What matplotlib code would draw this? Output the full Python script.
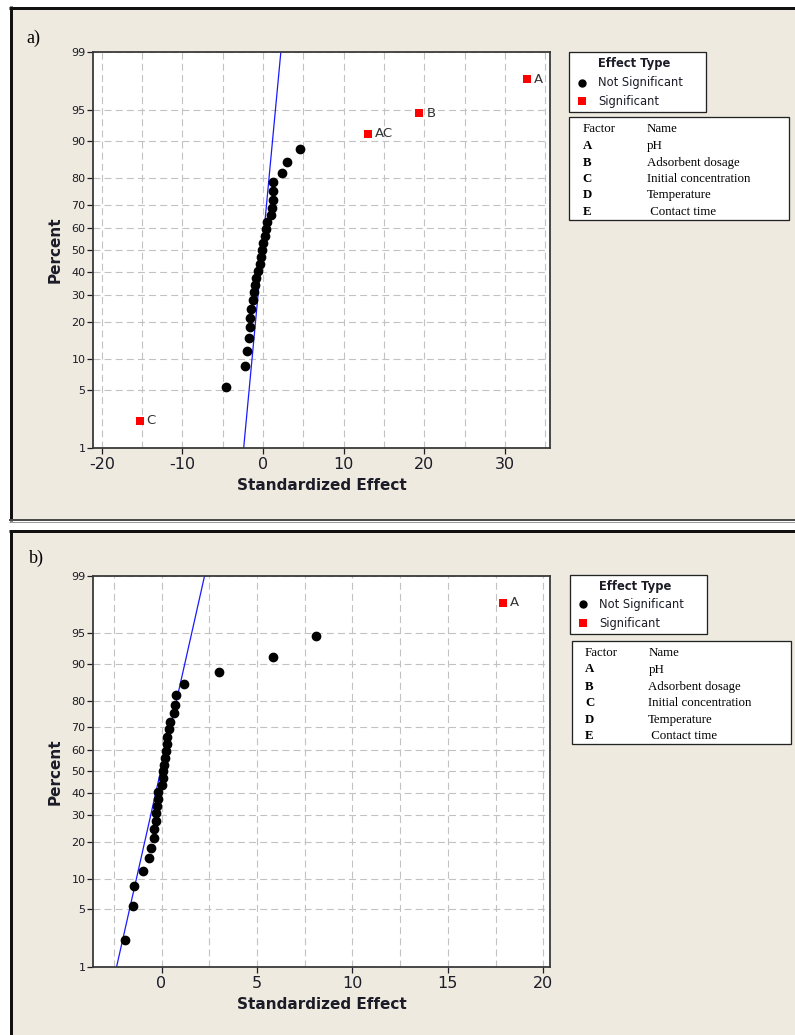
import math
import numpy as np
import matplotlib
matplotlib.use("Agg")
import matplotlib.pyplot as plt
from matplotlib.patches import Rectangle
from matplotlib.lines import Line2D
from matplotlib.ticker import FixedLocator, MultipleLocator, FuncFormatter

plt.rcParams["axes.unicode_minus"] = False
plt.rcParams["lines.scale_dashes"] = False

# ---------------- data ----------------
# normal-probability plotting positions (percent) for the 31 effects
percent = [2.23, 5.41, 8.60, 11.78, 14.97, 18.15, 21.34, 24.52, 27.71, 30.89,
           34.08, 37.26, 40.45, 43.63, 46.82, 50.00, 53.18, 56.37, 59.55, 62.74,
           65.92, 69.11, 72.29, 75.48, 78.66, 81.85, 85.03, 88.22, 91.40, 94.59, 97.77]

# panel a)
a_ns_effect = [-4.55, -2.3, -2.0, -1.72, -1.65, -1.62, -1.48, -1.2, -1.1, -0.98,
               -0.84, -0.66, -0.42, -0.31, -0.09, 0.04, 0.22, 0.35, 0.49, 1.02,
               1.15, 1.2, 1.25, 1.28, 2.35, 3.0, 4.6]
a_ns_percent = percent[1:28]
a_sig_labels = ["C", "AC", "B", "A"]
a_sig_effect = [-15.3, 13.0, 19.4, 32.7]
a_sig_percent = [percent[0], percent[28], percent[29], percent[30]]
a_line = (-0.1, 0.99)  # (mean, sigma) of the reference line

# panel b)
b_ns_effect = [-1.9, -1.5, -1.42, -0.98, -0.68, -0.54, -0.42, -0.37, -0.31, -0.28,
               -0.25, -0.2, -0.16, 0.01, 0.07, 0.1, 0.14, 0.2, 0.24, 0.28,
               0.31, 0.41, 0.43, 0.63, 0.71, 0.76, 1.17, 3.03, 5.85, 8.07]
b_ns_percent = percent[0:30]
b_sig_labels = ["A"]
b_sig_effect = [17.9]
b_sig_percent = [percent[30]]
b_line = (-0.05, 0.99)

y_ticks = [1, 5, 10, 20, 30, 40, 50, 60, 70, 80, 90, 95, 99]

factors = ["A", "B", "C", "D", "E"]
factor_names = ["pH", "Adsorbent dosage", "Initial concentration", "Temperature", " Contact time"]

# ---------------- normal probability scale ----------------
_a = [-3.969683028665376e+01, 2.209460984245205e+02, -2.759285104469687e+02,
      1.383577518672690e+02, -3.066479806614716e+01, 2.506628277459239e+00]
_b = [-5.447609879822406e+01, 1.615858368580409e+02, -1.556989798598866e+02,
      6.680131188771972e+01, -1.328068155288572e+01]
_c = [-7.784894002430293e-03, -3.223964580411365e-01, -2.400758277161838e+00,
      -2.549671348850526e+00, 4.374664141464968e+00, 2.938163982698783e+00]
_d = [7.784695709041462e-03, 3.224671290700398e-01, 2.445134137142996e+00,
      3.754408661907416e+00]


def _ppf1(p):
    p = min(max(p, 1e-12), 1 - 1e-12)
    plow = 0.02425
    if p < plow:
        q = math.sqrt(-2 * math.log(p))
        return (((((_c[0]*q+_c[1])*q+_c[2])*q+_c[3])*q+_c[4])*q+_c[5]) / \
               ((((_d[0]*q+_d[1])*q+_d[2])*q+_d[3])*q+1)
    if p > 1 - plow:
        q = math.sqrt(-2 * math.log(1 - p))
        return -(((((_c[0]*q+_c[1])*q+_c[2])*q+_c[3])*q+_c[4])*q+_c[5]) / \
                ((((_d[0]*q+_d[1])*q+_d[2])*q+_d[3])*q+1)
    q = p - 0.5
    r = q * q
    return (((((_a[0]*r+_a[1])*r+_a[2])*r+_a[3])*r+_a[4])*r+_a[5])*q / \
           (((((_b[0]*r+_b[1])*r+_b[2])*r+_b[3])*r+_b[4])*r+1)


_ppf = np.vectorize(_ppf1, otypes=[float])
_erf = np.vectorize(math.erf, otypes=[float])


def fwd(y):
    return _ppf(np.asarray(y, dtype=float) / 100.0)


def inv(z):
    return 100.0 * 0.5 * (1.0 + _erf(np.asarray(z, dtype=float) / math.sqrt(2.0)))


# ---------------- figure ----------------
W, H = 795, 1035
fig = plt.figure(figsize=(W / 100, H / 100), dpi=100, facecolor="white")
BG = "#EEEAE0"
TXT = "#1c1c28"


def fx(px):
    return px / W


def fy(py):
    return 1 - py / H


def hline(y, x0, x1, lw, color):
    fig.add_artist(Line2D([fx(x0), fx(x1)], [fy(y), fy(y)], transform=fig.transFigure,
                          lw=lw * 0.72, color=color, solid_capstyle="butt", zorder=1))


def vline(x, y0, y1, lw, color):
    fig.add_artist(Line2D([fx(x), fx(x)], [fy(y0), fy(y1)], transform=fig.transFigure,
                          lw=lw * 0.72, color=color, solid_capstyle="butt", zorder=1))


def box(x0, y0, x1, y1, fc, ec, lw, z=0.5):
    fig.add_artist(Rectangle((fx(x0), fy(y1)), (x1 - x0) / W, (y1 - y0) / H,
                             transform=fig.transFigure, facecolor=fc, edgecolor=ec,
                             lw=lw * 0.72, zorder=z))


# panel backgrounds and borders
box(10, 7, 800, 520, BG, "none", 0, z=0)
box(10, 530, 800, 1040, BG, "none", 0, z=0)
hline(7.5, 9, 800, 3, "#111111")
vline(10.5, 6, 521, 3, "#111111")
hline(519.5, 9, 800, 2, "#4a4a4a")
hline(521.5, 9, 800, 1, "#9a9a9a")
hline(531, 9, 800, 3, "#111111")
vline(11, 529.5, 1040, 3, "#111111")


def make_panel(top, bottom, xlim, xmajor, xminor, ns_x, ns_y, sig_x, sig_y, sig_lab, line):
    ax = fig.add_axes([fx(93), fy(bottom), (550 - 93) / W, (bottom - top) / H])
    ax.set_facecolor("white")
    ax.set_yscale("function", functions=(fwd, inv))
    ax.set_ylim(1, 99)
    ax.set_xlim(*xlim)
    ax.yaxis.set_major_locator(FixedLocator(y_ticks))
    ax.yaxis.set_minor_locator(FixedLocator([]))
    ax.yaxis.set_major_formatter(FuncFormatter(lambda v, p: "%d" % round(v)))
    ax.xaxis.set_major_locator(MultipleLocator(xmajor))
    ax.xaxis.set_minor_locator(MultipleLocator(xminor))
    ax.xaxis.set_major_formatter(FuncFormatter(lambda v, p: "%d" % round(v)))
    ax.grid(True, which="both", axis="both", color="#C2C2C2", lw=0.8,
            linestyle=(0, (5, 3)))
    ax.set_axisbelow(True)
    ax.tick_params(axis="y", which="major", length=4, width=0.9, pad=1.5,
                   labelsize=8, colors=TXT)
    ax.tick_params(axis="x", which="major", length=4, width=0.9, pad=3,
                   labelsize=11.5, colors=TXT)
    ax.tick_params(which="minor", length=0)
    for s in ax.spines.values():
        s.set_color("#3a3a3a")
        s.set_linewidth(1.3)
        s.set_zorder(6)

    # reference line
    pl = np.array([0.5, 99.5])
    ax.plot(line[0] + line[1] * fwd(pl), pl, color="#1a1aff", lw=0.9, zorder=3)

    ax.plot(ns_x, ns_y, "o", color="black", ms=6, zorder=4, clip_on=False)
    ax.plot(sig_x, sig_y, "s", color="#FF0000", ms=6, mew=0, zorder=4, clip_on=False)
    for xv, yv, lab in zip(sig_x, sig_y, sig_lab):
        ax.annotate(lab, (xv, yv), xytext=(5, 0), textcoords="offset points",
                    va="center", ha="left", fontsize=9.5, color="#333333", zorder=5)

    ax.set_xlabel("Standardized Effect", fontsize=11, fontweight="bold", color=TXT,
                  labelpad=4)
    ax.set_ylabel("Percent", fontsize=11, fontweight="bold", color=TXT, labelpad=6)
    return ax


make_panel(52.3, 447.7, (-21.1, 35.6), 10, 5, a_ns_effect, a_ns_percent,
           a_sig_effect, a_sig_percent, a_sig_labels, a_line)
make_panel(576, 966.7, (-3.59, 20.35), 5, 2.5, b_ns_effect, b_ns_percent,
           b_sig_effect, b_sig_percent, b_sig_labels, b_line)

fig.text(fx(26), fy(38), "a)", fontsize=13, family="Liberation Serif", va="center", ha="left")
fig.text(fx(29), fy(558), "b)", fontsize=13, family="Liberation Serif", va="center", ha="left")


def legends(ey0, ey1, ex0, ex1, rows_y, mx, tx, fbox, fx_factor, fx_name, frows):
    box(ex0, ey0, ex1, ey1, "white", "#222222", 1.3, z=2)
    fig.text(fx(tx), fy(rows_y[0]), "Effect Type", fontsize=8.3, color=TXT,
             fontweight="semibold", va="center", ha="left", zorder=3)
    fig.text(fx(tx), fy(rows_y[1]), "Not Significant", fontsize=8.3, color=TXT,
             va="center", ha="left", zorder=3)
    fig.text(fx(tx), fy(rows_y[2]), "Significant", fontsize=8.3, color=TXT,
             va="center", ha="left", zorder=3)
    fig.add_artist(Line2D([fx(mx)], [fy(rows_y[1])], marker="o", color="black", ms=5,
                          transform=fig.transFigure, zorder=3))
    fig.add_artist(Line2D([fx(mx)], [fy(rows_y[2])], marker="s", color="#FF0000", ms=5.5,
                          mew=0, transform=fig.transFigure, zorder=3))
    box(*fbox, "white", "#222222", 1.3, z=2)
    fig.text(fx(fx_factor), fy(frows[0]), "Factor", fontsize=9.3, family="Liberation Serif",
             color="black", va="center", ha="left", zorder=3)
    fig.text(fx(fx_name), fy(frows[0]), "Name", fontsize=9.3, family="Liberation Serif",
             color="black", va="center", ha="left", zorder=3)
    for f, n, yy in zip(factors, factor_names, frows[1:]):
        fig.text(fx(fx_factor), fy(yy), f, fontsize=9.3, family="Liberation Serif",
                 fontweight="bold", color="black", va="center", ha="left", zorder=3)
        fig.text(fx(fx_name), fy(yy), n, fontsize=9.3, family="Liberation Serif",
                 color="black", va="center", ha="left", zorder=3)


legends(52.3, 111.7, 569.3, 705.7, [64, 82.7, 101], 581.7, 598,
        (569.3, 117.3, 789, 220), 582.7, 646.7, [129.3, 146, 162.7, 178.8, 195, 211.7])
legends(575, 634, 570, 706.7, [586.7, 604.3, 623.3], 583.3, 599.3,
        (571.7, 641, 790.7, 744.3), 585, 648.3, [653.3, 669.5, 686.7, 703.3, 720, 736])

fig.savefig("out.png", dpi=100, facecolor="white")
